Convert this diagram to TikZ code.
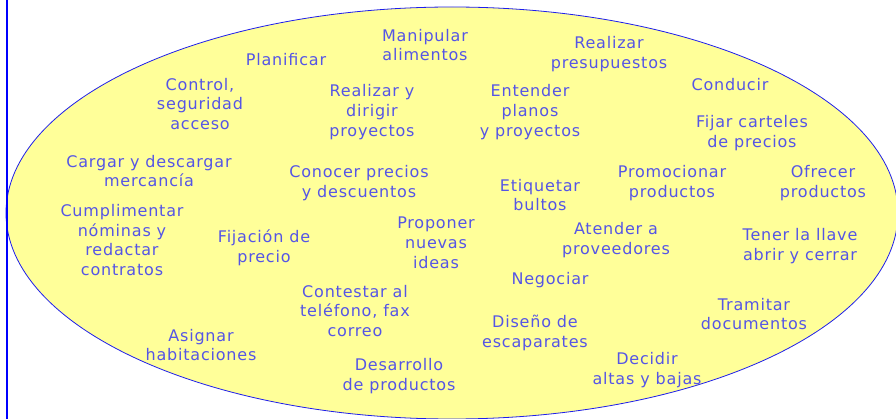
\documentclass[tikz,border=0pt]{standalone}
\usepackage{fontspec}
\setmainfont{DejaVu Sans}[LetterSpace=5]
\usepackage{tikz}
\usetikzlibrary{positioning}

\definecolor{amarillo}{RGB}{255,255,153}
\definecolor{azultexto}{RGB}{85,85,230}
\definecolor{azulborde}{RGB}{30,30,235}

\begin{document}
\begin{tikzpicture}[x=1pt, y=-1pt,
    tarea/.style={align=center, inner sep=0pt, text=azultexto, font=\fontsize{16}{19.8}\selectfont}]
    \useasboundingbox (0,0) rectangle (896,419);
    \clip (0,0) rectangle (896,419);
    % elipse de fondo
    \draw[azulborde, fill=amarillo, line width=0.8pt] (452,213) ellipse [x radius=446, y radius=206];
    % linea izquierda
    \draw[blue, line width=2pt] (7,0) -- (7,419);
    % fila superior
    \node[tarea] (plan) at (286,60) {Planificar};
    \node[tarea] (manip) at (425,45) {Manipular\\alimentos};
    \node[tarea] (presu) at (609,54) {Realizar\\presupuestos};
    \node[tarea] (control) at (200,104) {Control,\\seguridad\\acceso};
    \node[tarea] (dirigir) at (372,112) {Realizar y\\dirigir\\proyectos};
    \node[tarea] (planos) at (530,112) {Entender\\planos\\y proyectos};
    \node[tarea] (conducir) at (730,85) {Conducir};
    \node[tarea] (carteles) at (752,133) {Fijar carteles\\de precios};
    % fila central
    \node[tarea] (cargar) at (149,171) {Cargar y descargar\\mercancía};
    \node[tarea] (conocer) at (359,183) {Conocer precios\\y descuentos};
    \node[tarea] (etiq) at (540,195) {Etiquetar\\bultos};
    \node[tarea] (promo) at (672,183) {Promocionar\\productos};
    \node[tarea] (ofrecer) at (823,183) {Ofrecer\\productos};
    \node[tarea] (nominas) at (122,240) {Cumplimentar\\nóminas y\\redactar\\contratos};
    \node[tarea] (fijacion) at (264,248) {Fijación de\\precio};
    \node[tarea] (proponer) at (436,243) {Proponer\\nuevas\\ideas};
    \node[tarea] (atender) at (616,240) {Atender a\\proveedores};
    \node[tarea] (llave) at (800,246) {Tener la llave\\abrir y cerrar};
    % fila inferior
    \node[tarea] (negociar) at (550,280) {Negociar};
    \node[tarea] (contestar) at (355,311) {Contestar al\\teléfono, fax\\correo};
    \node[tarea] (disenio) at (535,333) {Diseño de\\escaparates};
    \node[tarea] (tramitar) at (754,314) {Tramitar\\documentos};
    \node[tarea] (asignar) at (201,345) {Asignar\\habitaciones};
    \node[tarea] (desarrollo) at (399,376) {Desarrollo\\de productos};
    \node[tarea] (decidir) at (647,370) {Decidir\\altas y bajas};
\end{tikzpicture}
\end{document}
